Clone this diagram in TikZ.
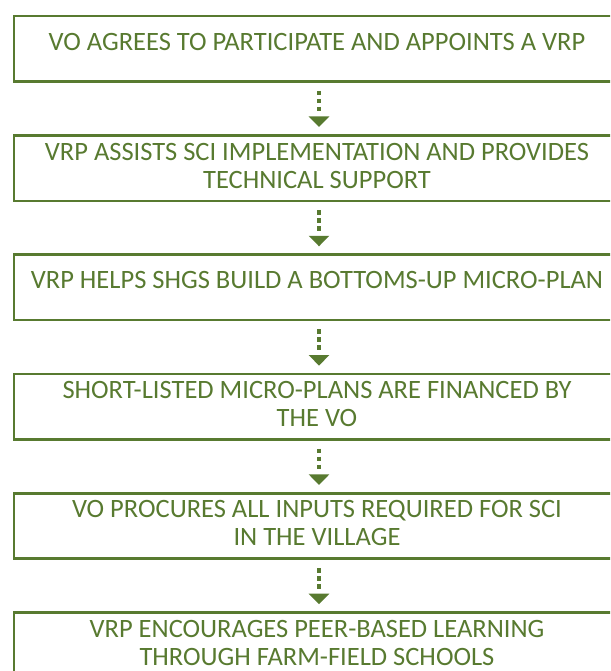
\documentclass[tikz,border=0pt]{standalone}
\usepackage{fontspec}
\setmainfont{Carlito}
\usetikzlibrary{arrows.meta}
\definecolor{olive}{RGB}{88,122,48}
\tikzset{
  stepbox/.style={draw=olive, line width=2.6pt, minimum width=606pt, minimum height=65.5pt, inner sep=0pt, anchor=north},
  steptext/.style={text=olive, font=\fontsize{26.5}{28}\selectfont, align=center, anchor=base, inner sep=0pt},
  flow/.style={draw=olive, line width=3.6pt, dash pattern=on 4.5pt off 3.5pt on 4.5pt off 3.5pt on 4.5pt off 20pt,
    -{Triangle[width=20pt,length=10.5pt]}, shorten <=8pt, shorten >=7pt}
}
\begin{document}
\begin{tikzpicture}[x=1pt,y=-1pt]
\useasboundingbox (0,0) rectangle (610,671);
\clip (0,0) rectangle (610,671);
\foreach \i/\t in {1/14.7, 2/134, 3/253.3, 4/372.6, 5/491.9, 6/611.2}{
  \node[stepbox] (b\i) at (317,\t) {};
}
\node[steptext] (t1) at ([yshift=-35.5pt]b1.north) {VO AGREES TO PARTICIPATE AND APPOINTS A VRP};
\node[steptext] (t2) at ([yshift=-54pt]b2.north) {VRP ASSISTS SCI IMPLEMENTATION AND PROVIDES\\TECHNICAL SUPPORT};
\node[steptext] (t3) at ([yshift=-35.5pt]b3.north) {VRP HELPS SHGS BUILD A BOTTOMS-UP MICRO-PLAN};
\node[steptext] (t4) at ([yshift=-54pt]b4.north) {SHORT-LISTED MICRO-PLANS ARE FINANCED BY\\THE VO};
\node[steptext] (t5) at ([yshift=-54pt]b5.north) {VO PROCURES ALL INPUTS REQUIRED FOR SCI\\IN THE VILLAGE};
\node[steptext] (t6) at ([yshift=-54pt]b6.north) {VRP ENCOURAGES PEER-BASED LEARNING\\THROUGH FARM-FIELD SCHOOLS};
\foreach \a/\b in {1/2,2/3,3/4,4/5,5/6}{
  \draw[flow] ([xshift=2pt]b\a.south) -- ([xshift=2pt]b\b.north);
}
\end{tikzpicture}
\end{document}
